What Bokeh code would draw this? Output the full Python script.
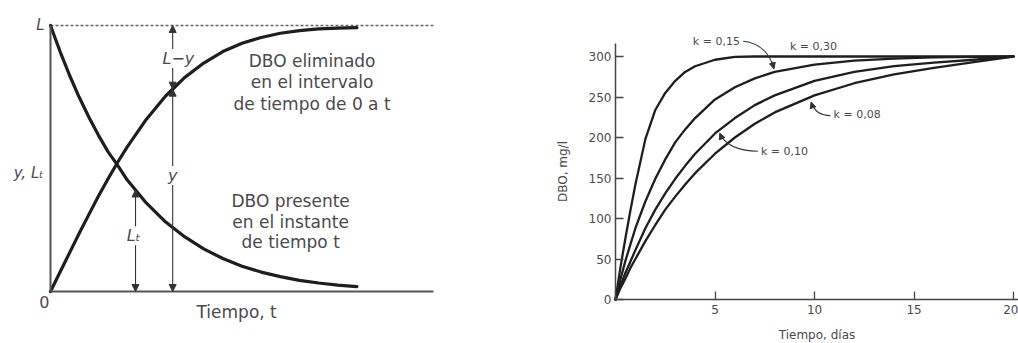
import numpy as np
from bokeh.plotting import figure
from bokeh.layouts import row
from bokeh.models import Label, Arrow, NormalHead, FixedTicker, Range1d, LinearAxis
from bokeh.embed import file_html
from bokeh.resources import INLINE

# ---------------- data: left schematic (L = 1) ----------------
t_left = [0, 0.25, 0.5, 0.75, 1.0, 1.25, 1.5, 1.75, 2.0, 2.5, 3.0, 3.5, 4.0, 4.5,
          5.0, 5.5, 6.0, 6.5, 7.0, 7.5, 8.0]
bod_remaining = [1.0, 0.902, 0.812, 0.730, 0.656, 0.588, 0.526, 0.475, 0.420, 0.333, 0.262,
                 0.206, 0.160, 0.124, 0.095, 0.073, 0.056, 0.042, 0.032, 0.024, 0.018]
bod_exerted = [0.0, 0.073, 0.146, 0.219, 0.289, 0.358, 0.423, 0.485, 0.543, 0.647, 0.734,
               0.804, 0.859, 0.902, 0.933, 0.955, 0.971, 0.981, 0.987, 0.990, 0.992]
L_value = 1.0
t_axis_max = 10
t_marker_Lt = 2.22
t_marker_y = 3.19
text_removed = ["DBO eliminado", "en el intervalo", "de tiempo de 0 a t"]
text_present = ["DBO presente", "en el instante", "de tiempo t"]

# ---------------- data: right chart (DBO, mg/l) ----------------
t_days = [0, 0.25, 0.5, 0.75, 1, 1.5, 2, 2.5, 3, 3.5, 4, 5, 6, 7, 8, 10, 12, 14, 16, 18, 20]
bod_k030 = [0, 40, 76, 110, 142, 198, 234, 255, 270, 281, 288, 296, 299.5, 300, 300, 300, 300, 300, 300, 300, 300]
bod_k015 = [0, 25, 48, 68, 88, 121, 149, 173, 194, 210, 224, 247, 262, 273, 281, 290, 295, 297.5, 299, 299.6, 300]
bod_k010 = [0, 17, 33, 47, 61, 88, 111, 131, 149, 165, 180, 205, 224, 240, 252, 270, 281, 288, 292.5, 296, 300]
bod_k008 = [0, 14, 26, 39, 50, 72, 92, 111, 127, 142, 156, 180, 200, 217, 231, 252, 267, 278, 286, 293, 300]
y_ticks = [0, 50, 100, 150, 200, 250, 300]
x_ticks = [0, 5, 10, 15, 20]
# label text, label position, leader (start, control, tip)
k_labels = [
    ("k = 0,15", (5.07, 318.0), ((6.42, 318.9), (7.62, 315.7), (7.96, 284.8))),
    ("k = 0,30", (9.95, 312.7), None),
    ("k = 0,08", (12.14, 228.0), ((10.80, 227.0), (10.05, 227.0), (9.83, 243.8))),
    ("k = 0,10", (8.49, 183.0), ((7.15, 183.0), (5.61, 184.0), (5.24, 205.3))),
]

INK = "#1e1e1e"
TXT = "#4a4a4a"
AX = "#555555"
FONT = "DejaVu Sans"


def no_ticks(ax):
    ax.major_tick_in = 0
    ax.major_tick_out = 0
    ax.minor_tick_in = 0
    ax.minor_tick_out = 0


def bare(p):
    p.grid.visible = False
    p.outline_line_color = None
    p.background_fill_color = "white"
    p.border_fill_color = "white"


def lab(p, x, y, text, size, italic=False, align="center", bg=None, color=TXT):
    kw = dict(x=x, y=y, text=text, text_font=FONT, text_font_size=size, text_color=color,
              text_align=align, text_baseline="middle",
              text_font_style="italic" if italic else "normal")
    if bg:
        kw["background_fill_color"] = bg
    p.add_layout(Label(**kw))


# ================= left figure (frame fills the whole canvas) =================
left = figure(width=515, height=343, x_range=Range1d(-1.3055, 12.141), y_range=Range1d(-0.19549, 1.09398),
              x_axis_location=None, y_axis_location=None,
              min_border_left=0, min_border_right=0, min_border_top=0, min_border_bottom=0,
              output_backend="svg", toolbar_location=None)
bare(left)

ya = LinearAxis(fixed_location=0, ticker=FixedTicker(ticks=[]), bounds=(0, L_value),
                major_label_text_font_size="0px", axis_line_color=AX, axis_line_width=2)
no_ticks(ya)
left.add_layout(ya, "left")

xa = LinearAxis(fixed_location=0, ticker=FixedTicker(ticks=[]), bounds=(0, t_axis_max),
                major_label_text_font_size="0px", axis_line_color=AX, axis_line_width=2)
no_ticks(xa)
left.add_layout(xa, "below")

left.line([0, t_axis_max], [L_value, L_value], line_color="#666666", line_dash="3 2", line_width=1.3)

left.line(t_left, bod_remaining, line_color=INK, line_width=3.2, line_join="round", line_cap="round")
left.line(t_left, bod_exerted, line_color=INK, line_width=3.2, line_join="round", line_cap="round")

y_at_marker = float(np.interp(t_marker_y, t_left, bod_exerted))
lt_at_marker = float(np.interp(t_marker_Lt, t_left, bod_remaining))


def head():
    return NormalHead(size=7, fill_color="#333333", line_color="#333333", line_width=1)


for (xs, ys, ye) in [(t_marker_y, y_at_marker, L_value), (t_marker_y, y_at_marker, 0.0),
                     (t_marker_Lt, lt_at_marker, 0.0)]:
    left.add_layout(Arrow(x_start=xs, y_start=ys, x_end=xs, y_end=ye, start=head(), end=head(),
                          line_color="#333333", line_width=1.1))

lab(left, -0.26, 1.0, "L", "15px", italic=True)
lab(left, 3.34, 0.876, "L\u2212y", "16px", italic=True, bg="white")
lab(left, t_marker_y, 0.436, "y", "16px", italic=True, bg="white")
lab(left, 2.17, 0.21, "L\u209c", "16px", italic=True, bg="white")
lab(left, -0.57, 0.447, "y, L\u209c", "15px", italic=True)
lab(left, -0.16, -0.041, "0", "16px")
lab(left, 4.86, -0.078, "Tiempo, t", "17px")

for txt, yy in zip(text_removed, [0.867, 0.786, 0.705]):
    lab(left, 6.83, yy, txt, "17px")
for txt, yy in zip(text_present, [0.342, 0.261, 0.185]):
    lab(left, 6.27, yy, txt, "17px")

# ================= right figure (frame fills the whole canvas) =================
right = figure(width=503, height=343, x_range=Range1d(-5.025, 20.25), y_range=Range1d(-54.32, 369.14),
               x_axis_location=None, y_axis_location=None,
               min_border_left=0, min_border_right=0, min_border_top=0, min_border_bottom=0,
               output_backend="svg", toolbar_location=None)
bare(right)

ry = LinearAxis(fixed_location=0, ticker=FixedTicker(ticks=y_ticks), bounds=(0, 316))
ry.axis_label = "DBO, mg/l"
ry.axis_label_text_font = FONT
ry.axis_label_text_font_size = "12px"
ry.axis_label_text_font_style = "normal"
ry.axis_label_text_color = TXT
ry.axis_label_standoff = 16
ry.major_label_text_font = FONT
ry.major_label_text_font_size = "12px"
ry.major_label_text_color = TXT
ry.major_label_standoff = 4
no_ticks(ry)
ry.major_tick_in = 8
ry.axis_line_color = "#444444"
ry.axis_line_width = 1.5
ry.major_tick_line_color = "#444444"
ry.major_tick_line_width = 1.3
right.add_layout(ry, "left")

rx = LinearAxis(fixed_location=0, ticker=FixedTicker(ticks=x_ticks), bounds=(0, 20.25))
rx.major_label_overrides = {0: ""}
rx.axis_label = "Tiempo, días"
rx.axis_label_text_font = FONT
rx.axis_label_text_font_size = "12px"
rx.axis_label_text_font_style = "normal"
rx.axis_label_text_color = TXT
rx.axis_label_standoff = 11
rx.major_label_text_font = FONT
rx.major_label_text_font_size = "12px"
rx.major_label_text_color = TXT
rx.major_label_standoff = 5
no_ticks(rx)
rx.major_tick_in = 8
rx.axis_line_color = "#444444"
rx.axis_line_width = 1.5
rx.major_tick_line_color = "#444444"
rx.major_tick_line_width = 1.3
right.add_layout(rx, "below")

for series in [bod_k030, bod_k015, bod_k010, bod_k008]:
    right.line(t_days, series, line_color=INK, line_width=2.3, line_join="round", line_cap="round")

for text, (lx, ly), leader in k_labels:
    lab(right, lx, ly, text, "11px")
    if leader is not None:
        (x0, y0), (cx, cy), (x1, y1) = leader
        right.quadratic(x0=[x0], y0=[y0], x1=[x1], y1=[y1], cx=[cx], cy=[cy],
                        line_color="#333333", line_width=1.1)
        xs = x1 - 0.3 * (x1 - cx)
        ys = y1 - 0.3 * (y1 - cy)
        right.add_layout(Arrow(x_start=xs, y_start=ys, x_end=x1, y_end=y1,
                               end=NormalHead(size=6, fill_color="#333333", line_color="#333333", line_width=1),
                               line_color="#333333", line_width=1.1))

layout = row(left, right)
open("out.html", "w").write(file_html(layout, INLINE))
